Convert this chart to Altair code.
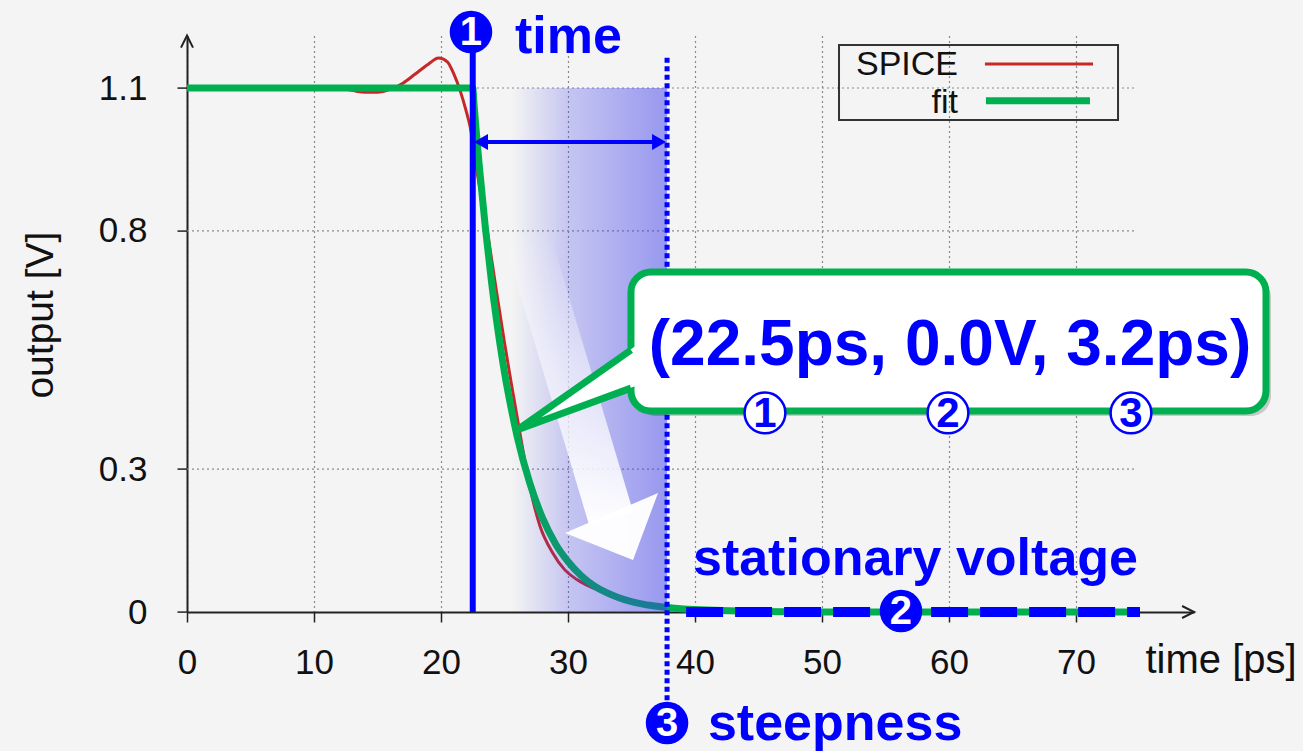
import altair as alt
import pandas as pd

# ------------------------------------------------------------------ data
spice_t = [0, 5, 10, 12, 13, 14, 15, 16, 17, 18, 19, 19.8, 20.5, 21, 21.5, 22, 22.3,
           22.8, 23.6, 24.3, 25, 25.6, 26.2, 27, 27.8, 28.8, 29.7, 30.7, 32, 34, 36.7,
           40, 50, 75]
spice_v = [1.1, 1.1, 1.1, 1.099, 1.095, 1.091, 1.091, 1.097, 1.11, 1.13, 1.15, 1.163,
           1.155, 1.13, 1.095, 1.05, 1.018, 0.93, 0.808, 0.685, 0.565, 0.47, 0.378,
           0.262, 0.18, 0.124, 0.09, 0.068, 0.05, 0.03, 0.015, 0.005, 0.001, 0.0]

fit_t = [0, 22.5, 22.6, 22.75, 23, 23.5, 24, 24.5, 25, 25.5, 26, 27, 28, 29, 30, 31, 32,
         33, 34, 35, 36, 37, 38, 40, 45, 50, 75]
fit_v = [1.1, 1.1, 1.066, 1.017, 0.941, 0.805, 0.688, 0.589, 0.503, 0.431, 0.368, 0.270,
         0.197, 0.144, 0.106, 0.077, 0.056, 0.041, 0.030, 0.022, 0.016, 0.012, 0.009,
         0.005, 0.001, 0.0, 0.0]

x_ticks = [0, 10, 20, 30, 40, 50, 60, 70]
y_ticks = [0, 0.3, 0.8, 1.1]
grid_v = [0.3, 0.8, 1.1]
grid_end_t = 74.8

legend_names = ["SPICE", "fit"]

# annotation anchors, in data units (ps, V)
t_switch = 22.5
t_steep_end = 37.8
span_arrow_v = 0.9866
param_text = ["(22.5ps, 0.0V, 3.2ps)"]
param_digits = ["1", "2", "3"]
param_digit_t = [45.51, 59.92, 74.33]
badge_digits = ["1", "2", "3"]
badge_t = [22.36, 56.22, 37.80]
badge_v = [1.2176, 0.0021, -0.2330]
label_texts = ["time", "stationary voltage", "steepness"]
label_t = [25.83, 39.84, 41.02]
label_v = [1.1735, 0.0777, -0.2687]

# white arrow (shaft ends, head polygon as area between two edges)
shaft_t = [26.61, 33.39]
shaft_v = [0.802, 0.197]
head_t = [29.76, 35.12, 37.09]
head_top = [0.166, 0.2274, 0.250]
head_bot = [0.166, 0.109, 0.250]

# callout box
box_t = [34.96, 84.96]
box_v = [0.7137, 0.4220]
ptr_t = [25.98, 35.43]
ptr_top = [0.382, 0.5605]
ptr_bot = [0.382, 0.4757]
ptr_line_t = [34.96, 25.98, 34.96]
ptr_line_v = [0.550, 0.382, 0.470]

BLUE = "#0000ff"
GREEN = "#00b050"
RED = "#c62828"
SANS = "Liberation Sans, Arial, Helvetica, sans-serif"

XS = alt.Scale(domain=[0, 79.3], nice=False, zero=False)
YS = alt.Scale(domain=[0, 1.21], nice=False, zero=False)

x_axis = alt.Axis(values=x_ticks, title="time [ps]", grid=True, gridColor="#8a8a8a",
                  gridDash=[2, 3], gridWidth=1.2, tickSize=10, tickColor="#222",
                  tickWidth=1.5, domainColor="#222", domainWidth=2, format="d",
                  labelFont=SANS, labelFontSize=35, labelColor="#111",
                  labelPadding=23, labelFlush=False, labelOverlap=False,
                  titleFont=SANS, titleFontSize=40, titleFontWeight="normal",
                  titleColor="#111", titleX=958, titleY=48, titleAlign="left",
                  titleBaseline="middle", titleAngle=0)
y_axis = alt.Axis(values=y_ticks, title="output [V]", grid=False, tickSize=10,
                  tickColor="#222", tickWidth=1.5, domainColor="#222", domainWidth=2,
                  format="~g", labelFont=SANS, labelFontSize=35, labelColor="#111",
                  labelPadding=30, labelFlush=False, labelOverlap=False,
                  titleFont=SANS, titleFontSize=39, titleFontWeight="normal",
                  titleColor="#111", titleX=-147, titleY=279, titleAngle=270,
                  titleAlign="center", titleBaseline="middle")


def X(f):
    return alt.X(f, type="quantitative", scale=XS, axis=x_axis)


def Y(f):
    return alt.Y(f, type="quantitative", scale=YS, axis=y_axis)


layers = []

# grid (horizontal)
layers.append(
    alt.Chart(pd.DataFrame({"gv": grid_v, "t0": [0] * 3, "t1": [grid_end_t] * 3}))
    .mark_rule(color="#8a8a8a", strokeDash=[2, 3], strokeWidth=1.2)
    .encode(x=X("t0"), x2="t1:Q", y=Y("gv"))
)

# curves
layers.append(
    alt.Chart(pd.DataFrame({"t": spice_t, "v": spice_v}))
    .mark_line(color=RED, strokeWidth=3, interpolate="monotone")
    .encode(x=X("t"), y=Y("v"))
)
layers.append(
    alt.Chart(pd.DataFrame({"t": fit_t, "v": fit_v}))
    .mark_line(color=GREEN, strokeWidth=7, interpolate="monotone")
    .encode(x=X("t"), y=Y("v"))
)

# steepness shading
shade_grad = alt.Gradient(
    gradient="linear",
    stops=[alt.GradientStop(color="rgba(60,60,235,0)", offset=0),
           alt.GradientStop(color="rgba(60,60,235,0)", offset=0.2),
           alt.GradientStop(color="rgba(60,60,235,0.26)", offset=0.5),
           alt.GradientStop(color="rgba(60,60,235,0.5)", offset=1)],
    x1=0, x2=1, y1=0, y2=0)
layers.append(
    alt.Chart(pd.DataFrame({"t0": [t_switch], "t1": [t_steep_end], "v0": [0.0], "v1": [1.1]}))
    .mark_rect(fill=shade_grad)
    .encode(x=X("t0"), x2="t1:Q", y=Y("v0"), y2="v1:Q")
)

# blue marker lines
layers.append(
    alt.Chart(pd.DataFrame({"t": [t_switch], "v0": [0.0], "v1": [1.2176]}))
    .mark_rule(color=BLUE, strokeWidth=6)
    .encode(x=X("t"), y=Y("v0"), y2="v1:Q")
)
layers.append(
    alt.Chart(pd.DataFrame({"t": [t_steep_end], "v0": [-0.185], "v1": [1.169]}))
    .mark_rule(color=BLUE, strokeWidth=5, strokeDash=[5, 3.5])
    .encode(x=X("t"), y=Y("v0"), y2="v1:Q")
)
layers.append(
    alt.Chart(pd.DataFrame({"t0": [23.15], "t1": [37.17], "v": [span_arrow_v]}))
    .mark_rule(color=BLUE, strokeWidth=4)
    .encode(x=X("t0"), x2="t1:Q", y=Y("v"))
)
layers.append(
    alt.Chart(pd.DataFrame({"t": [23.15, 37.17], "v": [span_arrow_v] * 2,
                            "s": ["triangle-left", "triangle-right"]}))
    .mark_point(filled=True, color=BLUE, size=260, opacity=1)
    .encode(x=X("t"), y=Y("v"), shape=alt.Shape("s:N", scale=None))
)

# white arrow
shaft_grad = alt.Gradient(
    gradient="linear",
    stops=[alt.GradientStop(color="rgba(255,255,255,0)", offset=0),
           alt.GradientStop(color="rgba(255,255,255,0.5)", offset=0.45),
           alt.GradientStop(color="rgba(255,255,255,0.97)", offset=1)],
    x1=0, x2=0, y1=0, y2=1)
layers.append(
    alt.Chart(pd.DataFrame({"t0": [shaft_t[0]], "t1": [shaft_t[1]],
                            "v0": [shaft_v[0]], "v1": [shaft_v[1]]}))
    .mark_rule(stroke=shaft_grad, strokeWidth=46, strokeCap="butt")
    .encode(x=X("t0"), x2="t1:Q", y=Y("v0"), y2="v1:Q")
)
layers.append(
    alt.Chart(pd.DataFrame({"t": head_t, "a": head_top, "b": head_bot}))
    .mark_area(color="white", opacity=0.97)
    .encode(x=X("t"), y=Y("a"), y2="b:Q")
)

# callout
layers.append(
    alt.Chart(pd.DataFrame({"t0": [box_t[0] + 0.39], "t1": [box_t[1] + 0.39],
                            "v0": [box_v[0] - 0.0105], "v1": [box_v[1] - 0.0105]}))
    .mark_rect(color="black", opacity=0.18, cornerRadius=20)
    .encode(x=X("t0"), x2="t1:Q", y=Y("v0"), y2="v1:Q")
)
layers.append(
    alt.Chart(pd.DataFrame({"t0": [box_t[0]], "t1": [box_t[1]],
                            "v0": [box_v[0]], "v1": [box_v[1]]}))
    .mark_rect(fill="white", stroke=GREEN, strokeWidth=7, cornerRadius=20)
    .encode(x=X("t0"), x2="t1:Q", y=Y("v0"), y2="v1:Q")
)
layers.append(
    alt.Chart(pd.DataFrame({"t": ptr_t, "a": ptr_top, "b": ptr_bot}))
    .mark_area(color="white", opacity=1)
    .encode(x=X("t"), y=Y("a"), y2="b:Q")
)
layers.append(
    alt.Chart(pd.DataFrame({"t": ptr_line_t, "v": ptr_line_v, "o": [0, 1, 2]}))
    .mark_line(color=GREEN, strokeWidth=7, strokeJoin="round")
    .encode(x=X("t"), y=Y("v"), order=alt.Order("o:Q"))
)
layers.append(
    alt.Chart(pd.DataFrame({"t": [60.08], "v": [0.5185], "s": param_text}))
    .mark_text(font=SANS, fontSize=64, fontWeight="bold", color=BLUE,
               align="center", baseline="alphabetic")
    .encode(x=X("t"), y=Y("v"), text="s:N")
)
layers.append(
    alt.Chart(pd.DataFrame({"t": param_digit_t, "v": [0.4178] * 3}))
    .mark_point(filled=True, fill="white", stroke=BLUE, strokeWidth=2.5, size=1662,
                opacity=1, shape="circle")
    .encode(x=X("t"), y=Y("v"))
)
layers.append(
    alt.Chart(pd.DataFrame({"t": param_digit_t, "v": [0.4178] * 3, "s": param_digits}))
    .mark_text(font=SANS, fontSize=42, fontWeight="bold", color=BLUE,
               align="center", baseline="middle", dy=1)
    .encode(x=X("t"), y=Y("v"), text="s:N")
)

# stationary voltage dashed line
layers.append(
    alt.Chart(pd.DataFrame({"t0": [39.3], "t1": [75.04], "v": [0.0]}))
    .mark_rule(color=BLUE, strokeWidth=10, strokeDash=[37, 12], strokeCap="butt")
    .encode(x=X("t0"), x2="t1:Q", y=Y("v"))
)

# numbered badges
layers.append(
    alt.Chart(pd.DataFrame({"t": badge_t, "v": badge_v}))
    .mark_point(filled=True, color=BLUE, size=1810, opacity=1, shape="circle")
    .encode(x=X("t"), y=Y("v"))
)
layers.append(
    alt.Chart(pd.DataFrame({"t": badge_t, "v": badge_v, "s": badge_digits}))
    .mark_text(font=SANS, fontSize=40, fontWeight="bold", color="white",
               align="center", baseline="middle", dy=1)
    .encode(x=X("t"), y=Y("v"), text="s:N")
)
layers.append(
    alt.Chart(pd.DataFrame({"t": label_t, "v": label_v, "s": label_texts}))
    .mark_text(font=SANS, fontSize=52, fontWeight="bold", color=BLUE,
               align="left", baseline="alphabetic")
    .encode(x=X("t"), y=Y("v"), text="s:N")
)

# legend
layers.append(
    alt.Chart(pd.DataFrame({"t0": [51.34], "t1": [73.31], "v0": [1.1903], "v1": [1.0328]}))
    .mark_rect(fillOpacity=0, fill="white", stroke="#333", strokeWidth=2)
    .encode(x=X("t0"), x2="t1:Q", y=Y("v0"), y2="v1:Q")
)
layers.append(
    alt.Chart(pd.DataFrame({"t": [60.71, 60.71], "v": [1.1273, 1.0475], "s": legend_names}))
    .mark_text(font=SANS, fontSize=34, color="#111", align="right", baseline="alphabetic")
    .encode(x=X("t"), y=Y("v"), text="s:N")
)
layers.append(
    alt.Chart(pd.DataFrame({"t0": [62.83], "t1": [71.34], "v": [1.1504]}))
    .mark_rule(color=RED, strokeWidth=3)
    .encode(x=X("t0"), x2="t1:Q", y=Y("v"))
)
layers.append(
    alt.Chart(pd.DataFrame({"t0": [62.91], "t1": [71.10], "v": [1.0733]}))
    .mark_rule(color=GREEN, strokeWidth=7)
    .encode(x=X("t0"), x2="t1:Q", y=Y("v"))
)

# axis arrowheads
layers.append(
    alt.Chart(pd.DataFrame({"t": [79.3], "v": [0.0]}))
    .mark_point(shape="M-1,-0.5L0,0L-1,0.5", size=576, filled=False, stroke="#222",
                strokeWidth=2, opacity=1)
    .encode(x=X("t"), y=Y("v"))
)
layers.append(
    alt.Chart(pd.DataFrame({"t": [0.0], "v": [1.21]}))
    .mark_point(shape="M-0.5,1L0,0L0.5,1", size=576, filled=False, stroke="#222",
                strokeWidth=2, opacity=1)
    .encode(x=X("t"), y=Y("v"))
)

chart = (
    alt.layer(*layers)
    .properties(width=1007.1, height=576.4,
                autosize=alt.AutoSizeParams(type="none"),
                padding={"left": 187, "top": 35.6, "right": 108.9, "bottom": 139},
                background="#f4f4f4")
    .configure_view(stroke=None)
)

chart.save("out.html", embed_options={"renderer": "svg", "actions": False})
